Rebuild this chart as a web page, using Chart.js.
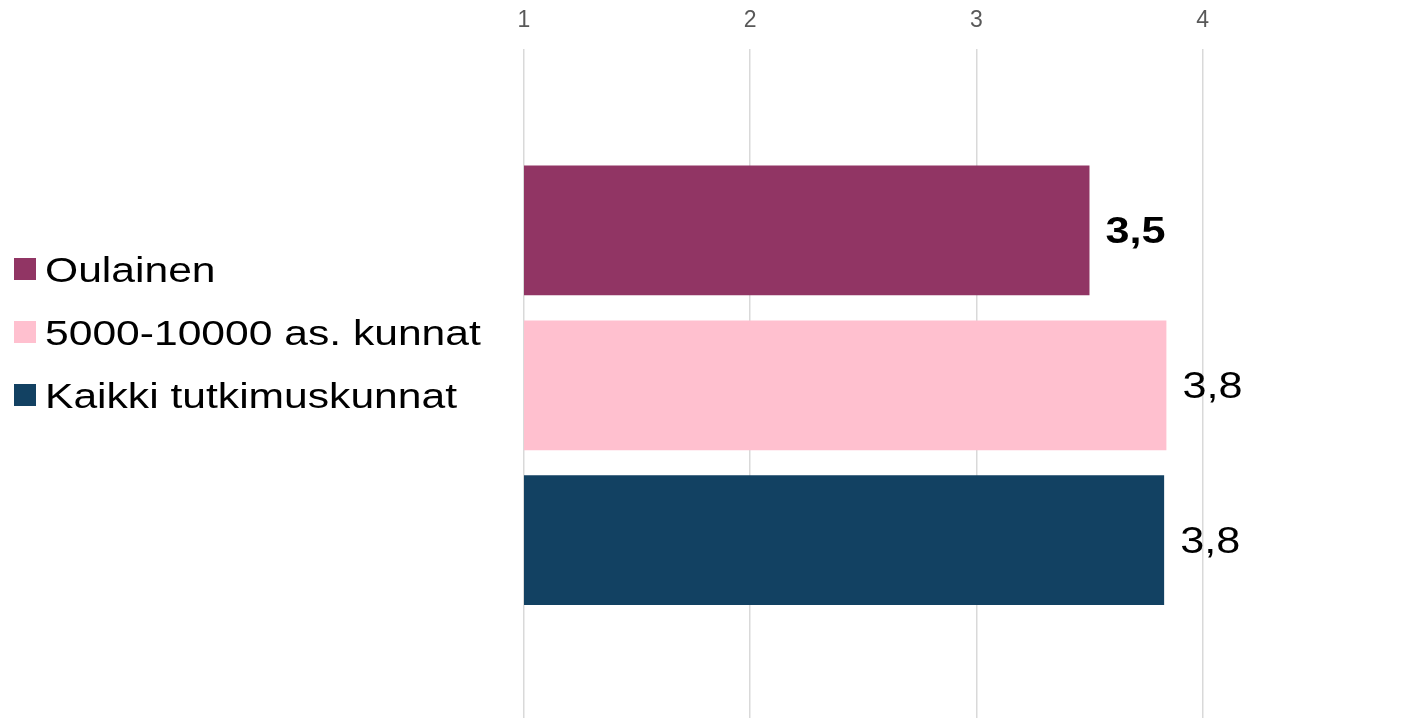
<!DOCTYPE html>
<html>
<head>
<meta charset="utf-8">
<script src="https://cdn.jsdelivr.net/npm/chart.js@4"></script>
<style>
  html, body { margin: 0; padding: 0; background: #fff; overflow: hidden; height: 718px; }
  #wrap { width: 1422px; height: 722px; position: relative; }
</style>
</head>
<body>
<div id="wrap"><canvas id="chart"></canvas></div>
<script>
// data
const categories = [""];
const seriesNames = ["Oulainen", "5000-10000 as. kunnat", "Kaikki tutkimuskunnat"];
const oulainen = [3.5];
const kunnat5000 = [3.84];
const kaikki = [3.83];
const seriesColors = ["#913564", "#FFC0CF", "#124162"];
const tickValues = [1, 2, 3, 4];

// text in the picture is slightly stretched sideways
const STRETCH = 1.2;

function drawStretched(ctx, text, x, y) {
  ctx.save();
  ctx.translate(x, y);
  ctx.scale(STRETCH, 1);
  ctx.fillText(text, 0, 0);
  ctx.restore();
}

// legend on the left, drawn from the datasets
const sideLegend = {
  id: "sideLegend",
  afterDraw(chart) {
    const ctx = chart.ctx;
    ctx.save();
    ctx.font = "35.5px 'Liberation Sans', Arial, sans-serif";
    ctx.textBaseline = "alphabetic";
    ctx.textAlign = "left";
    chart.data.datasets.forEach((ds, i) => {
      const base = 282 + i * 63;
      ctx.fillStyle = ds.backgroundColor;
      ctx.fillRect(14, base - 24, 22, 22);
      ctx.fillStyle = "#000";
      drawStretched(ctx, ds.label, 45, base);
    });
    ctx.restore();
  }
};

// value labels at the end of each bar
const endLabels = {
  id: "endLabels",
  afterDatasetsDraw(chart) {
    const ctx = chart.ctx;
    ctx.save();
    ctx.textBaseline = "alphabetic";
    ctx.textAlign = "left";
    ctx.fillStyle = "#000";
    chart.data.datasets.forEach((ds, i) => {
      const meta = chart.getDatasetMeta(i);
      meta.data.forEach((bar, j) => {
        const txt = ds.data[j].toFixed(1).replace(".", ",");
        ctx.font = (i === 0 ? "bold " : "") + "36px 'Liberation Sans', Arial, sans-serif";
        drawStretched(ctx, txt, bar.x + 16, bar.y + 13);
      });
    });
    ctx.restore();
  }
};

const ctx = document.getElementById("chart").getContext("2d");
new Chart(ctx, {
  type: "bar",
  data: {
    labels: categories,
    datasets: [
      { label: seriesNames[0], data: oulainen, backgroundColor: seriesColors[0] },
      { label: seriesNames[1], data: kunnat5000, backgroundColor: seriesColors[1] },
      { label: seriesNames[2], data: kaikki, backgroundColor: seriesColors[2] }
    ]
  },
  options: {
    indexAxis: "y",
    responsive: true,
    maintainAspectRatio: false,
    animation: false,
    devicePixelRatio: 1,
    categoryPercentage: 0.69,
    barPercentage: 0.838,
    layout: { padding: { left: 524, right: 0, top: 0, bottom: 0 } },
    plugins: {
      legend: { display: false },
      tooltip: { enabled: false }
    },
    scales: {
      x: {
        position: "top",
        min: 1,
        max: 4.97,
        border: { display: false },
        grid: {
          color: "#d9d9d9",
          lineWidth: 1.5,
          drawTicks: true,
          tickLength: 7,
          tickColor: "rgba(0,0,0,0)"
        },
        ticks: {
          stepSize: 1,
          includeBounds: false,
          padding: 7,
          color: "#595959",
          font: { family: "'Liberation Sans Narrow', 'Liberation Sans', Arial, sans-serif", size: 23 },
          callback: (v) => tickValues.includes(v) ? String(v) : ""
        }
      },
      y: {
        display: false
      }
    }
  },
  plugins: [sideLegend, endLabels]
});
</script>
</body>
</html>
